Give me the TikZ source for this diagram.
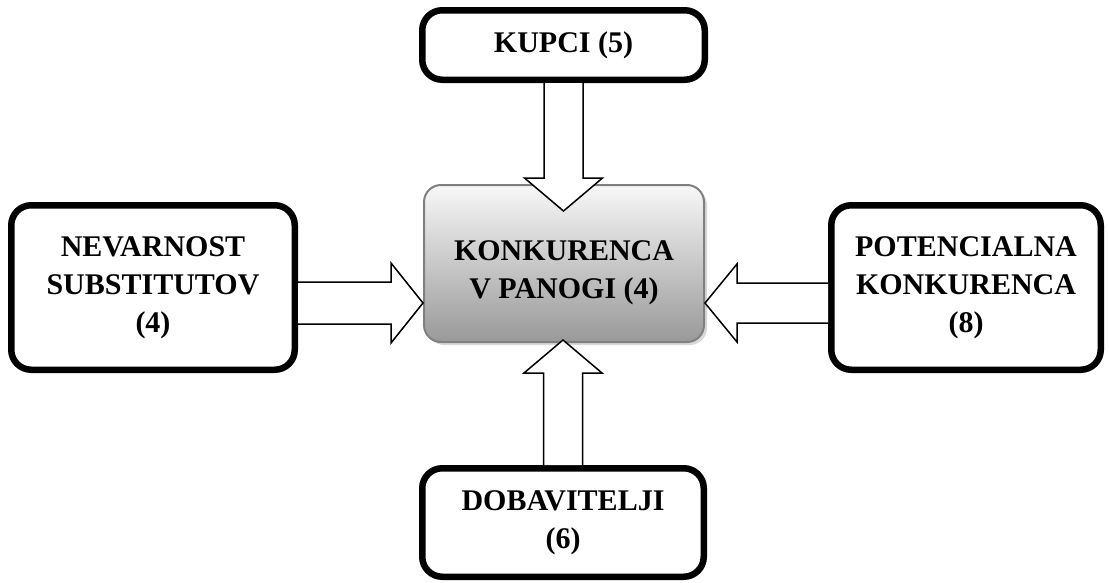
\documentclass[tikz,border=0pt]{standalone}
\usepackage{fontspec}
\setmainfont{Liberation Serif}
\usetikzlibrary{calc,shadows}

\begin{document}
\begin{tikzpicture}[x=1pt,y=-1pt,font=\fontsize{30}{38}\selectfont\bfseries,
  side node/.style={draw,line width=6.5pt,rounded corners=20pt,fill=white,align=center},
  main node/.style={draw=black!50,line width=2pt,rounded corners=17pt,top color=white!97!black,bottom color=black!40,align=center,
    drop shadow={shadow xshift=3pt,shadow yshift=-3pt,fill=black!30}},
  block/.style={draw,fill=white,line width=1.5pt,line join=miter}]
  \useasboundingbox (0,0) rectangle (1109,582);
  \node[main node,minimum width=280pt,minimum height=157pt,text height=76pt] (3) at (564,263.5) {KONKURENCA\\V PANOGI (4)};
  \node[side node,minimum width=282.5pt,minimum height=69.5pt] (1) at (563.5,45) {KUPCI (5)};
  \node[side node,minimum width=283.5pt,minimum height=164.5pt] (2) at (153,287.5) {NEVARNOST\\SUBSTITUTOV\\(4)};
  \node[side node,minimum width=269.5pt,minimum height=164.5pt] (4) at (966,287.5) {POTENCIALNA\\KONKURENCA\\(8)};
  \node[side node,minimum width=281.5pt,minimum height=108.5pt] (5) at (563,522.5) {DOBAVITELJI\\(6)};
  % arrow tips
  \coordinate (t1) at ($(1.south |- 3.north)+(0,27)$);
  \coordinate (t2) at ($(3.west)+(0,39.5)$);
  \coordinate (t4) at ($(3.east)+(0,39.5)$);
  \coordinate (t5) at ($(5.north |- 3.south)+(0,-3)$);
  \path[block] ($(1.south)+(-19.5,0)$) -- ($(t1)+(-19.5,-33)$) -- ($(t1)+(-39,-33)$) -- (t1)
    -- ($(t1)+(39,-33)$) -- ($(t1)+(19.5,-33)$) -- ($(1.south)+(19.5,0)$);
  \path[block] ($(5.north)+(-19.5,0)$) -- ($(t5)+(-19.5,33)$) -- ($(t5)+(-39,33)$) -- (t5)
    -- ($(t5)+(39,33)$) -- ($(t5)+(19.5,33)$) -- ($(5.north)+(19.5,0)$);
  \path[block] ($(2.east |- t2)+(0,-21)$) -- ($(t2)+(-32,-21)$) -- ($(t2)+(-32,-40)$) -- (t2)
    -- ($(t2)+(-32,40)$) -- ($(t2)+(-32,21)$) -- ($(2.east |- t2)+(0,21)$);
  \path[block] ($(4.west |- t4)+(0,-20)$) -- ($(t4)+(32,-20)$) -- ($(t4)+(32,-39)$) -- (t4)
    -- ($(t4)+(32,39)$) -- ($(t4)+(32,20)$) -- ($(4.west |- t4)+(0,20)$);
\end{tikzpicture}
\end{document}
